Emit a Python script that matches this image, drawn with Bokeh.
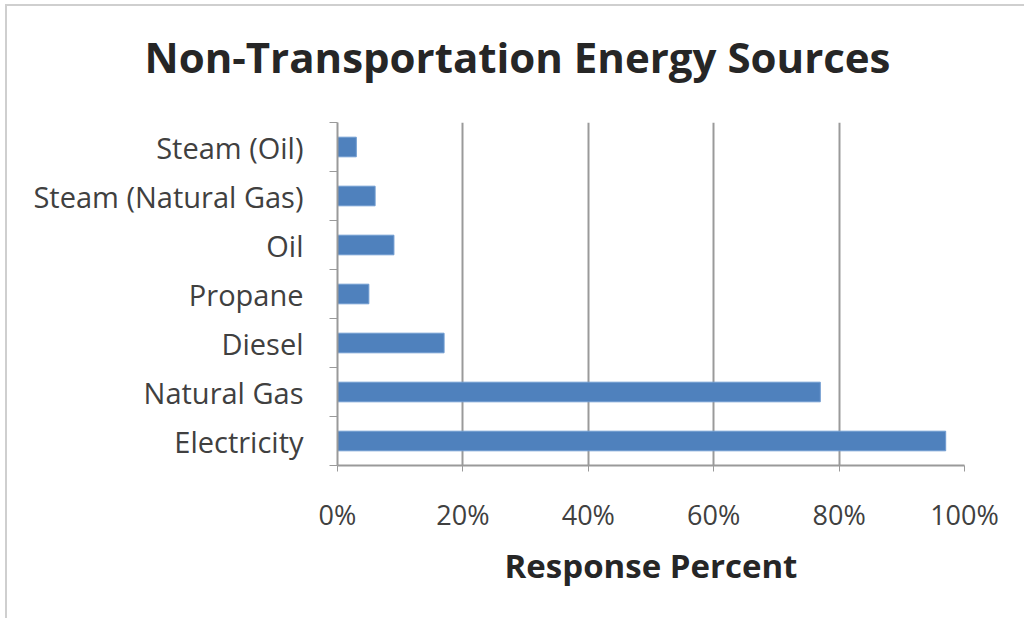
from bokeh.plotting import figure
from bokeh.models import FixedTicker, Range1d, Label
from bokeh.embed import file_html
from bokeh.resources import INLINE

categories = ["Electricity", "Natural Gas", "Diesel", "Propane", "Oil",
              "Steam (Natural Gas)", "Steam (Oil)"]
values = [97, 77, 17, 5, 9, 6, 3]
x_ticks = [0, 20, 40, 60, 80, 100]
x_tick_labels = ["0%", "20%", "40%", "60%", "80%", "100%"]
title_text = "Non-Transportation Energy Sources"
x_title = "Response Percent"

FONT = "Open Sans"
GREY = "#9a9a9a"
BAR = "#4f81bd"

centers = [i + 0.5 for i in range(len(categories))]

p = figure(width=1019, height=614, output_backend="svg", toolbar_location=None,
           x_range=Range1d(0, 100), y_range=Range1d(0, len(categories)),
           min_border_left=330, min_border_right=62, min_border_top=116,
           min_border_bottom=155)
p.outline_line_color = None
p.background_fill_color = "white"
p.border_fill_color = "white"
p.styles = {"border-top": "2px solid #cfcfcf", "border-left": "2px solid #cfcfcf",
            "margin-left": "5px", "margin-top": "4px"}

title = Label(x=180, y=66, x_units="screen", y_units="screen", text=title_text,
              text_font=FONT, text_font_style="bold", text_font_size="42px",
              text_color="#262626", text_align="center", text_baseline="middle")
p.add_layout(title, "above")

p.hbar(y=centers, right=values, left=0, height=0.4, fill_color=BAR,
       line_color="#6f9bd0", line_width=1)

# x axis
p.xaxis.ticker = FixedTicker(ticks=x_ticks)
p.xaxis.major_label_overrides = {t: l for t, l in zip(x_ticks, x_tick_labels)}
p.xaxis.axis_line_color = GREY
p.xaxis.axis_line_width = 2
p.xaxis.major_tick_line_color = GREY
p.xaxis.major_tick_line_width = 1
p.xaxis.major_tick_out = 6
p.xaxis.major_tick_in = 0
p.xaxis.minor_tick_line_color = None
p.xaxis.major_label_text_font = FONT
p.xaxis.major_label_text_font_size = "27px"
p.xaxis.major_label_text_color = "#404040"
p.xaxis.major_label_standoff = 24
p.xaxis.axis_label = x_title
p.xaxis.axis_label_text_font = FONT
p.xaxis.axis_label_text_font_style = "bold"
p.xaxis.axis_label_text_font_size = "33px"
p.xaxis.axis_label_text_color = "#262626"
p.xaxis.axis_label_standoff = 7

# y axis: labels at category centres, ticks at boundaries
p.yaxis.ticker = FixedTicker(ticks=centers, minor_ticks=list(range(len(categories) + 1)))
p.yaxis.major_label_overrides = {c: n for c, n in zip(centers, categories)}
p.yaxis.axis_line_color = GREY
p.yaxis.axis_line_width = 2
p.yaxis.major_tick_line_color = None
p.yaxis.major_tick_out = 6
p.yaxis.major_tick_in = 0
p.yaxis.minor_tick_line_color = GREY
p.yaxis.minor_tick_out = 8
p.yaxis.minor_tick_in = 0
p.yaxis.major_label_text_font = FONT
p.yaxis.major_label_text_font_size = "29px"
p.yaxis.major_label_text_color = "#404040"
p.yaxis.major_label_standoff = 26

p.xgrid.ticker = FixedTicker(ticks=x_ticks[1:])
p.xgrid.grid_line_color = GREY
p.xgrid.grid_line_width = 2
p.ygrid.grid_line_color = None
p.grid.level = "underlay"

open("out.html", "w").write(file_html(p, INLINE))
